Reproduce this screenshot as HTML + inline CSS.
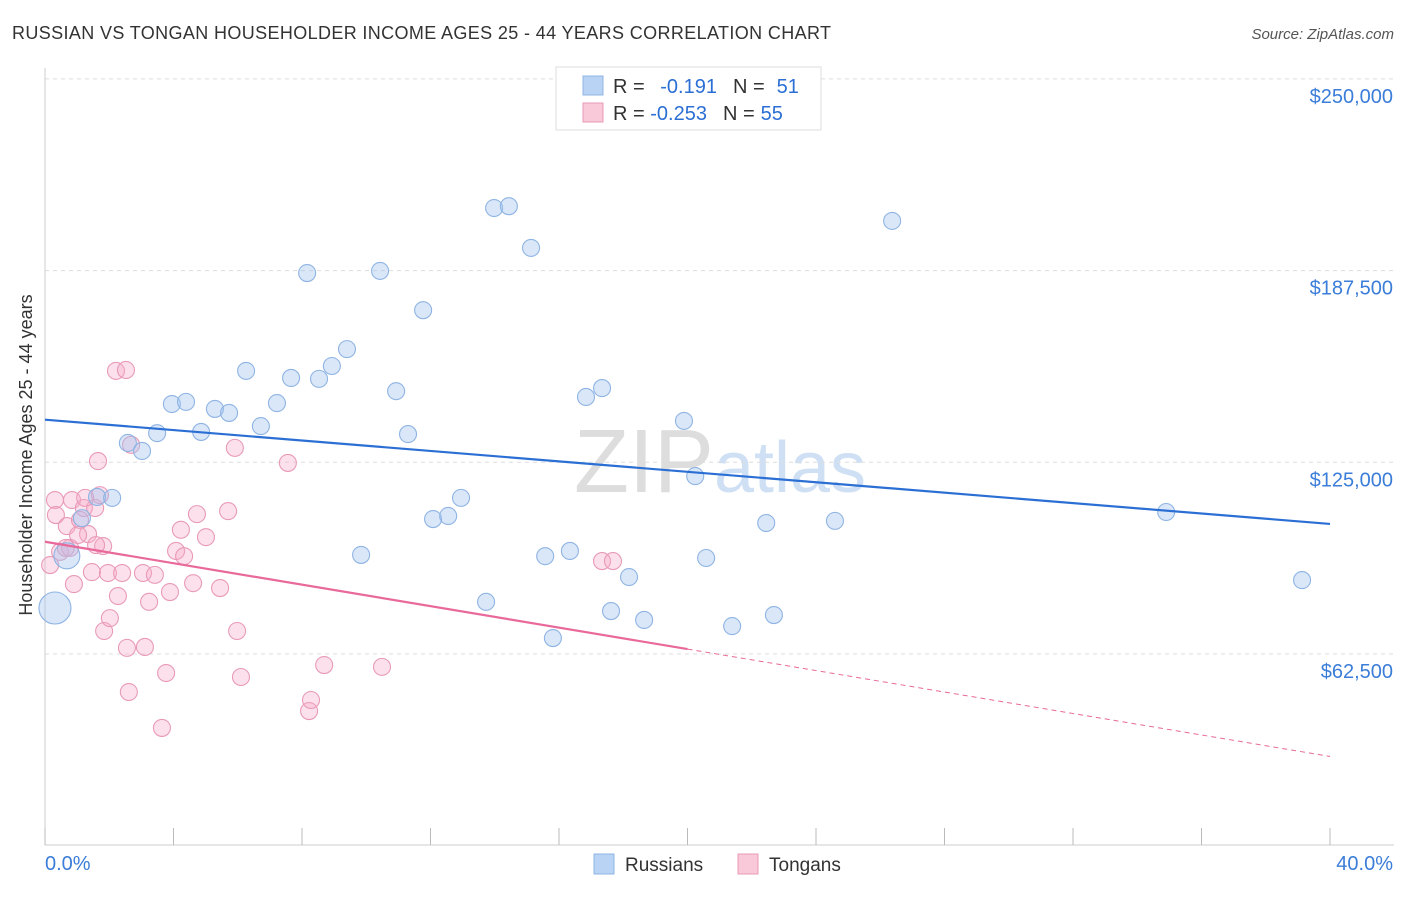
<!DOCTYPE html>
<html><head><meta charset="utf-8"><style>
body{margin:0;background:#fff;font-family:"Liberation Sans",sans-serif;}
svg text{font-family:"Liberation Sans",sans-serif;}
</style></head><body>
<svg id="c" width="1406" height="892">
<text x="12" y="39" font-size="18" fill="#333" textLength="819">RUSSIAN VS TONGAN HOUSEHOLDER INCOME AGES 25 - 44 YEARS CORRELATION CHART</text>
<text x="1394" y="39" font-size="15" fill="#555" font-style="italic" text-anchor="end">Source: ZipAtlas.com</text>
<text x="720" y="492" font-size="90" fill="#ddd" text-anchor="middle" font-family="Liberation Serif">ZIP<tspan fill="#cfe0f5" font-family="Liberation Sans" font-size="72">atlas</tspan></text>
<g id="grid"></g><g id="axes"></g><g id="pts"></g><g id="lines"></g>
<text x="32" y="455" font-size="18" fill="#333" text-anchor="middle" transform="rotate(-90 32 455)">Householder Income Ages 25 - 44 years</text>
<text x="45" y="870" font-size="20" fill="#3b7dd8">0.0%</text>
<text x="1393" y="870" font-size="20" fill="#3b7dd8" text-anchor="end">40.0%</text>
<g>
<rect x="556" y="67" width="265" height="63" fill="#fff" stroke="#ddd"/>
<rect x="583" y="76" width="20" height="19" fill="#b9d3f5" stroke="#8fb4e3"/>
<rect x="583" y="103" width="20" height="19" fill="#f9c8d9" stroke="#e89ab8"/>
<text x="613" y="93" font-size="20" fill="#333">R = <tspan fill="#2b6fd4" dx="10">-0.191</tspan><tspan dx="16" fill="#333">N =</tspan><tspan dx="12" fill="#2b6fd4">51</tspan></text>
<text x="613" y="120" font-size="20" fill="#333">R = <tspan fill="#2b6fd4" dx="0">-0.253</tspan><tspan dx="16" fill="#333">N =</tspan><tspan dx="6" fill="#2b6fd4">55</tspan></text>
</g>
<g>
<rect x="594" y="854" width="20" height="20" fill="#b9d3f5" stroke="#8fb4e3"/>
<text x="625" y="871" font-size="19" fill="#333">Russians</text>
<rect x="738" y="854" width="20" height="20" fill="#f9c8d9" stroke="#e89ab8"/>
<text x="769" y="871" font-size="19" fill="#333">Tongans</text>
</g>
</svg>
<script>
const yTicks=[62.5,125,187.5,250];
const yTickLabels=["$62,500","$125,000","$187,500","$250,000"];
const xTicks=[0,4,8,12,16,20,24,28,32,36,40];
const rusX=[0.31,0.68,1.62,2.09,1.15,2.58,3.02,3.49,3.95,4.39,4.86,5.29,5.73,6.26,6.72,7.22,7.66,8.16,8.53,8.93,9.40,9.84,10.43,10.93,11.30,11.77,12.08,12.55,12.95,13.73,13.98,14.44,15.13,15.57,15.81,16.34,16.84,17.34,17.62,18.18,18.65,19.89,20.24,20.58,21.39,22.45,22.69,24.59,26.37,34.90,39.13];
const rusY=[77.5,94.5,113.7,113.4,106.8,131.3,128.7,134.5,144,144.7,134.9,142.4,141.1,154.8,136.8,144.3,152.5,186.7,152.2,156.4,161.9,94.8,187.4,148.2,134.2,174.6,106.5,107.5,113.4,79.5,207.9,208.5,194.9,94.4,67.7,96.1,146.3,149.2,76.5,87.6,73.6,138.5,120.5,93.8,71.6,105.2,75.2,105.9,203.7,108.8,86.6];
const rusR=[16,13];
const tonX=[0.16,0.31,0.34,0.47,0.68,0.78,0.84,0.90,1.09,1.21,1.34,1.46,1.56,1.65,1.71,1.81,1.84,1.96,2.02,2.21,2.27,2.40,2.52,2.55,2.61,2.68,3.05,3.11,3.24,3.42,3.64,3.77,3.89,4.08,4.23,4.33,4.61,4.73,5.01,5.45,5.70,5.91,5.98,6.10,7.56,8.22,8.28,8.69,10.49,17.34,17.68,0.65,1.59,1.03,1.25];
const tonY=[91.5,112.7,107.8,95.8,104.2,97.1,112.7,85.3,106.2,110.1,101.6,89.2,110.1,125.4,114.3,97.7,70,88.9,74.2,154.8,81.4,88.9,155.1,64.5,50.1,130.7,88.9,64.8,79.5,88.3,38.4,56.3,82.7,96.1,103,94.4,85.6,108.1,100.6,84,109.1,129.7,70,55,124.8,43.9,47.5,58.9,58.3,92.8,92.8,97.1,98,101.3,113.4];
const rusLine=[138.9,104.9];
const tonLine=[99.1,29.1];
const tonSolidEnd=20;
const X=v=>45+v/40*1285, Y=v=>654-(v-62.5)/62.5*191.7;
const NS="http://www.w3.org/2000/svg";
function mk(p,t,a){const e=document.createElementNS(NS,t);for(const k in a)e.setAttribute(k,a[k]);document.getElementById(p).appendChild(e);return e;}
yTicks.forEach((v,i)=>{
 const l=mk('grid','line',{x1:45,x2:1394,y1:Y(v),y2:Y(v),stroke:'#ddd','stroke-dasharray':'4,4'});
 
 
 const t=mk('grid','text',{x:1393,y:Y(v)+24,'font-size':20,fill:'#3b7dd8','text-anchor':'end'});
 t.textContent=yTickLabels[i];
 
 
});
const ax=mk('axes','line',{x1:45,x2:1394,y1:845,y2:845,stroke:'#ccc'});


const ay=mk('axes','line',{x1:45,x2:45,y1:68,y2:845,stroke:'#ccc'});


xTicks.forEach(v=>{const t=mk('axes','line',{x1:X(v),x2:X(v),y1:828,y2:845,stroke:'#bbb'});
 
 });
tonX.forEach((x,i)=>{const c=mk('pts','circle',{cx:X(x),cy:Y(tonY[i]),r:8.5,fill:'rgba(245,170,200,0.35)',stroke:'#e89ab8','stroke-width':1.1});
 
 });
rusX.forEach((x,i)=>{const c=mk('pts','circle',{cx:X(x),cy:Y(rusY[i]),r:rusR[i]||8.5,fill:'rgba(160,196,240,0.4)',stroke:'#8fb4e3','stroke-width':1.1});
 
 });
const tl=v=>tonLine[0]+(tonLine[1]-tonLine[0])*v/40;
let l1=mk('lines','line',{x1:X(0),y1:Y(rusLine[0]),x2:X(40),y2:Y(rusLine[1]),stroke:'#2b6fd4','stroke-width':2.2});


let l2=mk('lines','line',{x1:X(0),y1:Y(tl(0)),x2:X(tonSolidEnd),y2:Y(tl(tonSolidEnd)),stroke:'#e8699a','stroke-width':2.2});


let l3=mk('lines','line',{x1:X(tonSolidEnd),y1:Y(tl(tonSolidEnd)),x2:X(40),y2:Y(tl(40)),stroke:'#e8699a','stroke-width':1,'stroke-dasharray':'5,4'});


</script>
</body></html>
